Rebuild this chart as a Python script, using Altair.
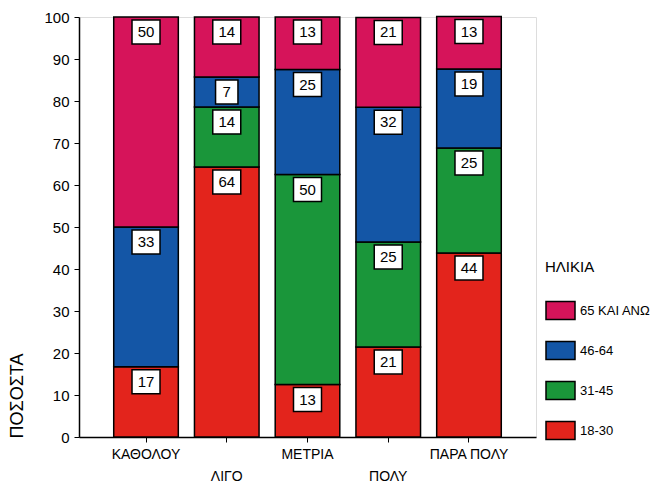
import altair as alt
import pandas as pd

categories = ["ΚΑΘΟΛΟΥ", "ΛΙΓΟ", "ΜΕΤΡΙΑ", "ΠΟΛΥ", "ΠΑΡΑ ΠΟΛΥ"]
groups = ["18-30", "31-45", "46-64", "65 ΚΑΙ ΑΝΩ"]
v_18_30 = [16.7, 64.3, 12.5, 21.4, 43.8]
v_31_45 = [0.0, 14.3, 50.0, 25.0, 25.0]
v_46_64 = [33.3, 7.1, 25.0, 32.1, 18.8]
v_65 = [50.0, 14.3, 12.5, 21.4, 12.5]
colors = ["#E3241C", "#1A963A", "#1456A6", "#D6145A"]

rows = []
for gi, (g, vals) in enumerate(zip(groups, [v_18_30, v_31_45, v_46_64, v_65])):
    for c, v in zip(categories, vals):
        if v > 0:
            rows.append({"cat": c, "grp": g, "ord": gi, "val": v})
df = pd.DataFrame(rows)

FONT = "Liberation Sans"

base = alt.Chart(df).transform_stack(
    stack="val", as_=["y0", "y1"], groupby=["cat"], sort=[alt.SortField("ord", order="ascending")]
)

x_enc = alt.X(
    "cat:N",
    sort=categories,
    scale=alt.Scale(paddingInner=0.2, paddingOuter=0.43),
    axis=alt.Axis(
        title=None,
        labelAngle=0,
        labelFontSize=14,
        labelFont=FONT,
        labelColor="black",
        tickColor="black",
        tickSize=5,
        domainColor="black",
        domainWidth=1.5,
        labelPadding={"condition": {"test": "datum.value === 'ΛΙΓΟ' || datum.value === 'ΠΟΛΥ'", "value": 27}, "value": 5},
    ),
)

bars = base.mark_bar(stroke="black", strokeWidth=1.5, opacity=1).encode(
    x=x_enc,
    y=alt.Y(
        "y0:Q",
        scale=alt.Scale(domain=[0, 100], nice=False),
        axis=alt.Axis(
            title="ΠΟΣΟΣΤΑ",
            values=list(range(0, 101, 10)),
            grid=False,
            labelFontSize=15,
            labelFont=FONT,
            labelColor="black",
            tickColor="black",
            tickSize=5,
            labelPadding=5,
            domainColor="black",
            domainWidth=1.5,
            titleFont=FONT,
            titleFontSize=18,
            titleFontWeight="normal",
            titleColor="black",
            titleAngle=270,
            titleAlign="left",
            titleBaseline="middle",
            titleX=-62,
            titleY=421,
        ),
    ),
    y2="y1:Q",
    color=alt.Color(
        "grp:N",
        scale=alt.Scale(domain=groups[::-1], range=colors[::-1]),
        legend=alt.Legend(
            title="ΗΛΙΚΙΑ",
            orient="none",
            legendX=466,
            legendY=243,
            titleFont=FONT,
            titleFontSize=15,
            titleFontWeight="normal",
            titleColor="black",
            titlePadding=20,
            labelFont=FONT,
            labelFontSize=13,
            labelColor="black",
            labelOffset=4,
            symbolType="M-1,-0.62H1V0.62H-1Z",
            symbolSize=841,
            symbolStrokeColor="black",
            symbolStrokeWidth=1.5,
            symbolOpacity=1,
            rowPadding=12,
        ),
    ),
    order=alt.Order("ord:Q"),
)

box = base.mark_point(filled=True, fill="white", stroke="black", strokeWidth=1.5, opacity=1, yOffset=15).encode(
    x=alt.X("cat:N", sort=categories),
    y="y1:Q",
    size=alt.value(784),
    shape=alt.condition(
        "datum.val < 9.5",
        alt.value("M-0.8,-0.857H0.8V0.857H-0.8Z"),
        alt.value("M-1,-0.857H1V0.857H-1Z"),
    ),
)

txt = base.mark_text(font=FONT, fontSize=15, color="black", baseline="middle", yOffset=15).encode(
    x=alt.X("cat:N", sort=categories),
    y="y1:Q",
    text=alt.Text("val:Q", format=".0f"),
)

chart = (
    alt.layer(bars, box, txt)
    .properties(
        width=457,
        height=420,
        autosize=alt.AutoSizeParams(type="none"),
        padding={"left": 71, "top": 9, "right": 120, "bottom": 46},
    )
    .configure_view(stroke="black", strokeWidth=1.5)
    .configure(background="white")
)

chart.save("out.html", embed_options={"renderer": "svg", "actions": False})
